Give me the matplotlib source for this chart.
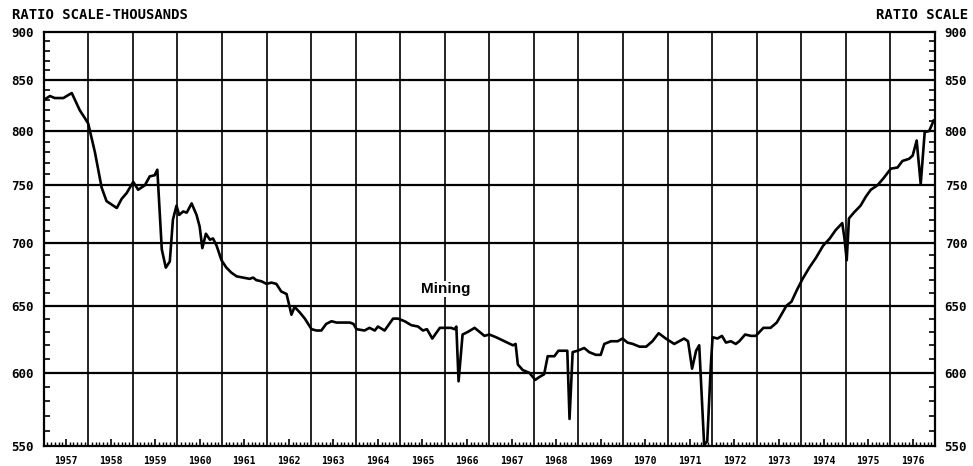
import numpy as np
import matplotlib
matplotlib.use('Agg')
from matplotlib import pyplot as plt
from matplotlib.ticker import FixedLocator, NullFormatter

## Mining employment, thousands (ratio scale)
t = [1957.00, 1957.14, 1957.25, 1957.44, 1957.63, 1957.81, 1957.93, 1958.00,
     1958.15, 1958.30, 1958.41, 1958.64, 1958.75, 1958.86, 1959.01, 1959.12,
     1959.27, 1959.38, 1959.49, 1959.55, 1959.65, 1959.74, 1959.83, 1959.90,
     1959.98, 1960.04, 1960.13, 1960.21, 1960.32, 1960.43, 1960.50, 1960.56,
     1960.64, 1960.73, 1960.80, 1960.88, 1960.99, 1961.10, 1961.21, 1961.33,
     1961.47, 1961.62, 1961.70, 1961.77, 1961.89, 1962.00, 1962.11, 1962.22,
     1962.33, 1962.45, 1962.56, 1962.63, 1962.74, 1962.86, 1963.01, 1963.12,
     1963.23, 1963.34, 1963.46, 1963.57, 1963.87, 1963.95,
     1964.02, 1964.20, 1964.31, 1964.43, 1964.50, 1964.65, 1964.84, 1964.95,
     1965.10, 1965.25, 1965.40, 1965.51, 1965.60, 1965.72, 1965.89, 1966.03,
     1966.14, 1966.22, 1966.26, 1966.31, 1966.40, 1966.52, 1966.67, 1966.78,
     1966.89, 1967.00, 1967.15, 1967.34, 1967.53, 1967.59, 1967.64, 1967.75,
     1967.90, 1968.03, 1968.12, 1968.23, 1968.31, 1968.46, 1968.55, 1968.72,
     1968.75, 1968.80, 1968.87, 1968.98, 1969.13, 1969.24, 1969.39, 1969.50,
     1969.58, 1969.73, 1969.88, 1969.99, 1970.10, 1970.22, 1970.37, 1970.52,
     1970.66, 1970.80,
     1970.96, 1971.15, 1971.37, 1971.46, 1971.55, 1971.64, 1971.71, 1971.82,
     1971.89, 1971.97, 1972.01, 1972.12, 1972.22, 1972.31, 1972.42, 1972.53,
     1972.61, 1972.74, 1972.87, 1972.98, 1973.15, 1973.31, 1973.45, 1973.67,
     1973.78, 1973.90, 1974.03, 1974.18, 1974.33, 1974.49, 1974.64, 1974.77,
     1974.92, 1974.97, 1975.02, 1975.07, 1975.18, 1975.33, 1975.45, 1975.56,
     1975.71, 1975.86, 1976.01, 1976.16, 1976.27, 1976.42, 1976.50, 1976.59,
     1976.68, 1976.77, 1976.87, 1976.97]
emp = [830, 834, 832, 832, 837, 820, 812, 807,
       780, 748, 736, 730, 738, 743, 753, 746,
       750, 758, 759, 764, 695, 680, 685, 720,
       732, 724, 727, 726, 734, 724, 714, 696,
       708, 703, 704, 698, 686, 680, 676, 673,
       672, 671, 672, 670, 669, 667, 668, 667,
       661, 659, 643, 649, 645, 640, 632, 631,
       631, 636, 638, 637, 637, 636,
       632, 631, 633, 631, 634, 631, 640, 640,
       638, 635, 634, 631, 632, 625, 633, 633,
       633, 632, 634, 594, 628, 630, 633, 630,
       627, 628, 626, 623, 620, 621, 606, 602,
       600, 595, 597, 599, 612, 612, 616, 616,
       616, 568, 615, 616, 618, 615, 613, 613,
       621, 623, 623, 625, 622, 621, 619, 619,
       623, 629,
       625, 621, 625, 623, 603, 616, 620, 551,
       553, 605, 626, 625, 627, 622, 623, 621,
       623, 628, 627, 627, 633, 633, 637, 650,
       653, 662, 671, 680, 688, 698, 704, 711,
       717, 704, 686, 721, 726, 732, 740, 746,
       750, 757, 765, 766, 772, 774, 777, 791,
       751, 799, 800, 810]

years = list(range(1957, 1978))
year_labels = [str(y) for y in range(1957, 1977)]
yticks = [550, 600, 650, 700, 750, 800, 850, 900]

mono = 'DejaVu Sans Mono'

fig = plt.figure(figsize=(9.73, 4.66), dpi=100)
ax = fig.add_axes([0.0449, 0.0429, 0.9160, 0.8884])

ax.set_yscale('log')
ax.set_xlim(1957, 1977)
ax.set_ylim(550, 900)

# grid: year boundaries and every 50 thousand
for yr in years[1:-1]:
    ax.axvline(yr, color='black', lw=1.2, zorder=1)
for v in yticks[1:-1]:
    ax.axhline(v, color='black', lw=1.6, zorder=1)

ax.plot(t, emp, color='black', lw=1.9, zorder=3)

# y axis, labelled on both sides
ax.yaxis.set_major_locator(FixedLocator(yticks))
ax.set_yticklabels([str(v) for v in yticks])
ax.yaxis.set_minor_locator(FixedLocator([v for v in range(560, 900, 10) if v % 50]))
ax.yaxis.set_minor_formatter(NullFormatter())
ax.tick_params(axis='y', which='both', direction='in', left=True, right=True,
               labelleft=True, labelright=True)
ax.tick_params(axis='y', which='major', length=0, pad=7)
ax.tick_params(axis='y', which='minor', length=4, width=1.2)

# x axis: year names at mid-year, monthly ticks
ax.xaxis.set_major_locator(FixedLocator([y + 0.5 for y in years[:-1]]))
ax.set_xticklabels(year_labels)
ax.xaxis.set_minor_locator(FixedLocator([y + m / 12 for y in years[:-1] for m in range(1, 12) if m != 6]))
ax.tick_params(axis='x', which='major', direction='in', length=5, width=1.2, pad=7)
ax.tick_params(axis='x', which='minor', direction='in', length=3, width=1.0)

for lab in ax.get_yticklabels():
    lab.set_fontfamily(mono)
    lab.set_fontweight('bold')
    lab.set_fontsize(9)
for lab in ax.get_xticklabels():
    lab.set_fontfamily(mono)
    lab.set_fontweight('bold')
    lab.set_fontsize(7)

for s in ax.spines.values():
    s.set_linewidth(1.6)

fig.text(0.012, 0.968, 'RATIO SCALE-THOUSANDS', family=mono, weight='bold',
         fontsize=10, ha='left', va='center')
fig.text(0.995, 0.968, 'RATIO SCALE', family=mono, weight='bold',
         fontsize=10, ha='right', va='center')

ax.text(1966.03, 663, 'Mining', family='Liberation Sans', weight='bold',
        fontsize=11, ha='center', va='center', zorder=4,
        bbox=dict(facecolor='white', edgecolor='none', pad=1))

fig.savefig('out.png', dpi=100, facecolor='white')
